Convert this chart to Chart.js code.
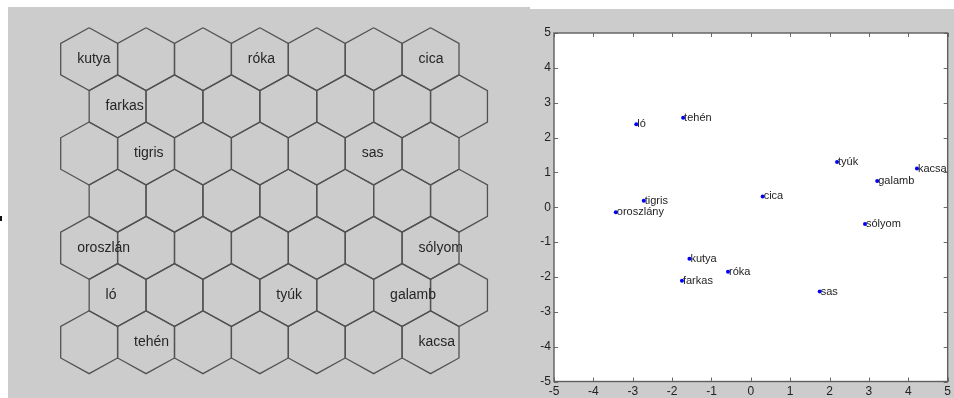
<!DOCTYPE html>
<html>
<head>
<meta charset="utf-8">
<script src="https://cdn.jsdelivr.net/npm/chart.js@4/dist/chart.umd.min.js"></script>
<style>
  html, body { margin: 0; padding: 0; background: #ffffff; width: 954px; height: 398px; overflow: hidden; }
  .panel { position: absolute; background: #cccccc; }
  #bgSom { left: 8px; top: 7px; width: 522px; height: 391px; }
  #bgProj { left: 528px; top: 9px; width: 426px; height: 389px; }
  #somCanvas { position: absolute; left: 8px; top: 7px; }
  #projCanvas { position: absolute; left: 530px; top: 9px; }
  #edgeMark { position: absolute; left: 0; top: 216px; width: 2px; height: 5px; background: #111; }
</style>
</head>
<body>
<div id="edgeMark"></div>
<div class="panel" id="bgSom"></div>
<div class="panel" id="bgProj"></div>
<canvas id="somCanvas" width="522" height="391"></canvas>
<canvas id="projCanvas" width="424" height="389"></canvas>
<script>
// --- Self-organising map: 7 x 7 hexagonal grid and the winning cell of each animal ---
const gridCols = 7;
const gridRows = 7;
const somLabels = ['kutya', 'róka', 'cica', 'farkas', 'tigris', 'sas', 'oroszlán', 'sólyom', 'ló', 'tyúk', 'galamb', 'tehén', 'kacsa'];
const somRow    = [1, 1, 1, 2, 3, 3, 5, 5, 6, 6, 6, 7, 7];
const somCol    = [1, 4, 7, 1, 2, 6, 1, 7, 1, 4, 6, 2, 7];

// --- 2-D projection of the same animals ---
const projLabels = ['ló', 'tehén', 'tyúk', 'kacsa', 'galamb', 'cica', 'tigris', 'oroszlány', 'sólyom', 'kutya', 'róka', 'farkas', 'sas'];
const projX = [-2.91, -1.72, 2.19, 4.22, 3.21, 0.30, -2.72, -3.43, 2.90, -1.56, -0.58, -1.75, 1.75];
const projY = [ 2.38,  2.57, 1.30, 1.11, 0.75, 0.31,  0.19, -0.14, -0.48, -1.48, -1.85, -2.11, -2.42];
const axisTicks = [-5, -4, -3, -2, -1, 0, 1, 2, 3, 4, 5];

Chart.defaults.font.family = '"Liberation Sans", Arial, Helvetica, sans-serif';

// Hex cell outline (pointy top) around a grid centre, in grid units
function hexOutline(r, c) {
  const cx = c + (r % 2 ? 0.5 : 0);
  const cy = r;
  return [
    { x: cx,       y: cy - 2 / 3 },
    { x: cx + 0.5, y: cy - 1 / 3 },
    { x: cx + 0.5, y: cy + 1 / 3 },
    { x: cx,       y: cy + 2 / 3 },
    { x: cx - 0.5, y: cy + 1 / 3 },
    { x: cx - 0.5, y: cy - 1 / 3 },
    { x: cx,       y: cy - 2 / 3 }
  ];
}

const hexDatasets = [];
for (let r = 0; r < gridRows; r++) {
  for (let c = 0; c < gridCols; c++) {
    hexDatasets.push({
      data: hexOutline(r, c),
      showLine: true,
      fill: false,
      borderColor: '#525252',
      borderWidth: 1.3,
      pointRadius: 0,
      tension: 0
    });
  }
}

const hexLabelPlugin = {
  id: 'hexLabels',
  afterDatasetsDraw(chart) {
    const { ctx, scales: { x, y } } = chart;
    ctx.save();
    ctx.font = '14px "Liberation Sans", Arial, sans-serif';
    ctx.fillStyle = '#262626';
    ctx.textAlign = 'left';
    ctx.textBaseline = 'middle';
    somLabels.forEach((name, i) => {
      const r = somRow[i] - 1;
      const c = somCol[i] - 1;
      const cx = c + (r % 2 ? 0.5 : 0);
      ctx.fillText(name, x.getPixelForValue(cx) - 12, y.getPixelForValue(r));
    });
    ctx.restore();
  }
};

new Chart(document.getElementById('somCanvas'), {
  type: 'scatter',
  data: { datasets: hexDatasets },
  options: {
    responsive: false,
    animation: false,
    devicePixelRatio: 1,
    layout: { padding: 0 },
    plugins: { legend: { display: false }, tooltip: { enabled: false } },
    scales: {
      x: { display: false, min: -1.4262, max: 7.7478 },
      y: { display: false, reverse: true, min: -1.1053, max: 7.1821 }
    }
  },
  plugins: [hexLabelPlugin]
});

// White plot box, frame and inward tick marks on all four sides
const frameTicksPlugin = {
  id: 'frameTicks',
  beforeDatasetsDraw(chart) {
    const { ctx, chartArea: a, scales: { x, y } } = chart;
    ctx.save();
    ctx.fillStyle = '#ffffff';
    ctx.fillRect(a.left, a.top, a.right - a.left, a.bottom - a.top);
    ctx.strokeStyle = '#6a6a6a';
    ctx.lineWidth = 1;
    const len = 4;
    ctx.beginPath();
    x.ticks.forEach(t => {
      const px = Math.round(x.getPixelForValue(t.value)) + 0.5;
      ctx.moveTo(px, a.bottom); ctx.lineTo(px, a.bottom - len);
      ctx.moveTo(px, a.top);    ctx.lineTo(px, a.top + len);
    });
    y.ticks.forEach(t => {
      const py = Math.round(y.getPixelForValue(t.value)) + 0.5;
      ctx.moveTo(a.left, py);  ctx.lineTo(a.left + len, py);
      ctx.moveTo(a.right, py); ctx.lineTo(a.right - len, py);
    });
    ctx.stroke();
    ctx.strokeStyle = '#5e5e5e';
    ctx.lineWidth = 1.4;
    ctx.strokeRect(a.left, a.top, a.right - a.left, a.bottom - a.top);
    ctx.restore();
  },
  afterDatasetsDraw(chart) {
    const { ctx } = chart;
    const meta = chart.getDatasetMeta(0);
    ctx.save();
    ctx.font = '11px "Liberation Sans", Arial, sans-serif';
    ctx.fillStyle = '#1e1e1e';
    ctx.textAlign = 'left';
    ctx.textBaseline = 'middle';
    meta.data.forEach((pt, i) => {
      ctx.fillText(projLabels[i], pt.x + 1, pt.y);
    });
    ctx.restore();
  }
};

new Chart(document.getElementById('projCanvas'), {
  type: 'scatter',
  data: {
    datasets: [{
      data: projX.map((v, i) => ({ x: v, y: projY[i] })),
      backgroundColor: '#0000ff',
      borderColor: '#0000ff',
      borderWidth: 0,
      pointRadius: 2,
      pointHoverRadius: 2
    }]
  },
  options: {
    responsive: false,
    animation: false,
    devicePixelRatio: 1,
    layout: { padding: { left: 0, top: 24, right: 3, bottom: 0 } },
    plugins: { legend: { display: false }, tooltip: { enabled: false } },
    scales: {
      x: {
        type: 'linear',
        min: -5, max: 5,
        afterBuildTicks(scale) { scale.ticks = axisTicks.map(v => ({ value: v })); },
        afterFit(scale) { scale.height = 16.5; },
        ticks: { color: '#222222', font: { size: 12 }, padding: 3, maxRotation: 0, autoSkip: false },
        grid: { display: false, drawTicks: false },
        border: { display: false }
      },
      y: {
        type: 'linear',
        min: -5, max: 5,
        afterBuildTicks(scale) { scale.ticks = axisTicks.map(v => ({ value: v })); },
        afterFit(scale) { scale.width = 24; },
        ticks: { color: '#222222', font: { size: 12 }, padding: 3, autoSkip: false },
        grid: { display: false, drawTicks: false },
        border: { display: false }
      }
    }
  },
  plugins: [frameTicksPlugin]
});
</script>
</body>
</html>
